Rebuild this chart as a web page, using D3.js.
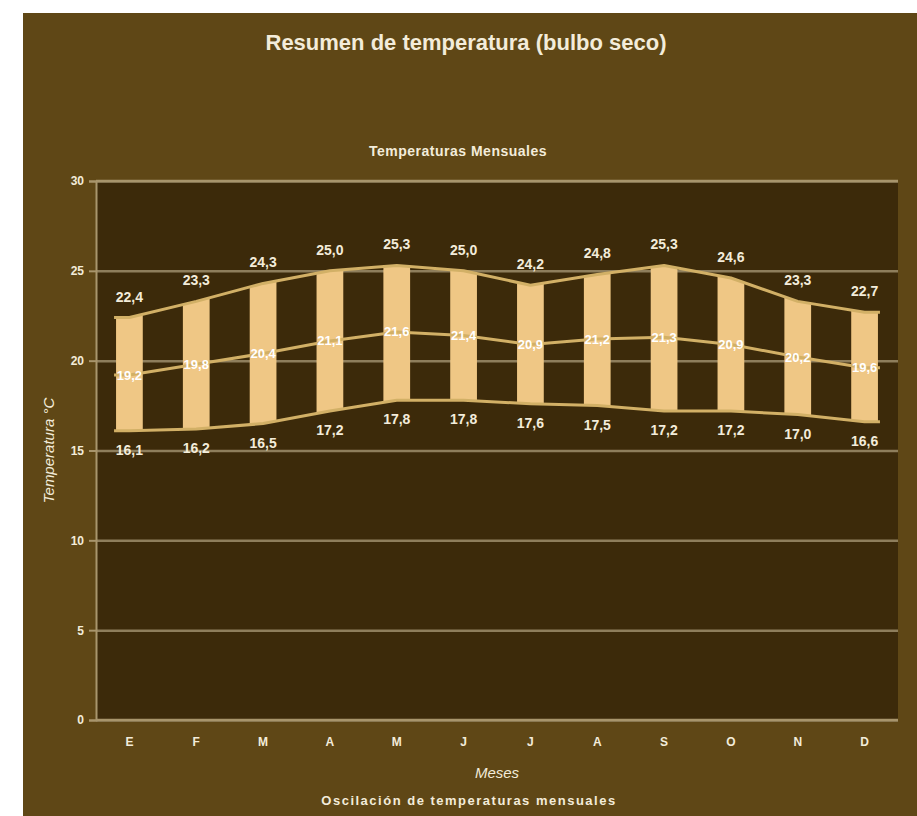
<!DOCTYPE html>
<html>
<head>
<meta charset="utf-8">
<script src="https://cdn.jsdelivr.net/npm/d3@7"></script>
<style>
  html, body { margin: 0; padding: 0; background: #ffffff; }
  svg { display: block; font-family: "Liberation Sans", Arial, sans-serif; }
</style>
</head>
<body>
<div id="chart"></div>
<script>
// data
const meses = ["E", "F", "M", "A", "M2", "J", "J2", "A2", "S", "O", "N", "D"];
const mesLabels = ["E", "F", "M", "A", "M", "J", "J", "A", "S", "O", "N", "D"];
const tMax = [22.4, 23.3, 24.3, 25.0, 25.3, 25.0, 24.2, 24.8, 25.3, 24.6, 23.3, 22.7];
const tMed = [19.2, 19.8, 20.4, 21.1, 21.6, 21.4, 20.9, 21.2, 21.3, 20.9, 20.2, 19.6];
const tMin = [16.1, 16.2, 16.5, 17.2, 17.8, 17.8, 17.6, 17.5, 17.2, 17.2, 17.0, 16.6];
const yTicks = [0, 5, 10, 15, 20, 25, 30];

const width = 917, height = 816;
const plot = { left: 96, right: 898, top: 181, bottom: 720 };

const colors = {
  outer: "#5f4716",
  plotBg: "#3c2a0a",
  grid: "#8e7e5c",
  border: "#a8956c",
  bar: "#efc785",
  line: "#d2b066",
  text: "#f3ecda"
};

const fmt = d3.formatLocale({ decimal: ",", thousands: ".", grouping: [3], currency: ["", ""] }).format(".1f");

const svg = d3.select("#chart").append("svg")
  .attr("width", width)
  .attr("height", height);

// outer panel
svg.append("rect")
  .attr("x", 23).attr("y", 13)
  .attr("width", width - 23).attr("height", height - 13)
  .attr("fill", colors.outer);

const x = d3.scaleBand()
  .domain(meses)
  .range([plot.left, plot.right])
  .paddingInner(0.6)
  .paddingOuter(0.3);

const y = d3.scaleLinear()
  .domain([0, 30])
  .range([plot.bottom, plot.top]);

const cx = (d, i) => x(meses[i]) + x.bandwidth() / 2;

// plot background
svg.append("rect")
  .attr("x", plot.left).attr("y", plot.top)
  .attr("width", plot.right - plot.left).attr("height", plot.bottom - plot.top)
  .attr("fill", colors.plotBg);

// gridlines
svg.append("g")
  .attr("transform", `translate(${plot.left},0)`)
  .call(d3.axisLeft(y).tickValues(yTicks).tickSize(-(plot.right - plot.left)).tickFormat(""))
  .call(g => g.select(".domain").remove())
  .call(g => g.selectAll("line").attr("stroke", colors.grid).attr("stroke-width", 2.5));

// y axis with small ticks
svg.append("g")
  .attr("transform", `translate(${plot.left},0)`)
  .call(d3.axisLeft(y).tickValues(yTicks).tickSize(7).tickPadding(5))
  .call(g => g.select(".domain").attr("stroke", colors.border).attr("stroke-width", 2))
  .call(g => g.selectAll("line").attr("stroke", colors.border).attr("stroke-width", 2))
  .call(g => g.selectAll("text")
    .attr("fill", colors.text)
    .attr("font-size", 12)
    .attr("font-weight", "bold"));

// top and bottom frame lines
[0, 30].forEach(v => {
  svg.append("line")
    .attr("x1", plot.left).attr("x2", plot.right)
    .attr("y1", y(v)).attr("y2", y(v))
    .attr("stroke", colors.border).attr("stroke-width", 2.5);
});

// points along each series, extended flat to the outer bar edges
function pts(vals) {
  const p = vals.map((v, i) => [cx(v, i), y(v)]);
  p.unshift([x(meses[0]) - 2, y(vals[0])]);
  p.push([x(meses[meses.length - 1]) + x.bandwidth() + 2, y(vals[vals.length - 1])]);
  return p;
}

// bars: band between min and max, cut to each month's column
svg.append("clipPath").attr("id", "cols")
  .selectAll("rect")
  .data(meses)
  .join("rect")
  .attr("x", d => x(d))
  .attr("y", plot.top)
  .attr("width", x.bandwidth())
  .attr("height", plot.bottom - plot.top);

const pMax = pts(tMax), pMin = pts(tMin);
const area = d3.area()
  .x((d, i) => pMax[i][0])
  .y0((d, i) => pMin[i][1])
  .y1((d, i) => pMax[i][1]);

svg.append("path")
  .datum(pMax)
  .attr("clip-path", "url(#cols)")
  .attr("fill", colors.bar)
  .attr("d", area);

// lines
const line = d3.line();
[tMax, tMed, tMin].forEach(vals => {
  svg.append("path")
    .datum(pts(vals))
    .attr("fill", "none")
    .attr("stroke", colors.line)
    .attr("stroke-width", 3)
    .attr("stroke-linejoin", "round")
    .attr("d", line);
});

// value labels
function labels(vals, dy, fill, size) {
  svg.append("g")
    .selectAll("text")
    .data(vals)
    .join("text")
    .attr("x", cx)
    .attr("y", d => y(d) + dy)
    .attr("text-anchor", "middle")
    .attr("dominant-baseline", "central")
    .attr("fill", fill)
    .attr("font-size", size)
    .attr("font-weight", "bold")
    .text(d => fmt(d));
}
labels(tMax, -21, colors.text, 14);
labels(tMin, 19, colors.text, 14);
labels(tMed, 0, "#ffffff", 13);

// x labels
svg.append("g")
  .selectAll("text")
  .data(meses)
  .join("text")
  .attr("x", d => x(d) + x.bandwidth() / 2)
  .attr("y", 742)
  .attr("text-anchor", "middle")
  .attr("dominant-baseline", "central")
  .attr("fill", colors.text)
  .attr("font-size", 12)
  .attr("font-weight", "bold")
  .text((d, i) => mesLabels[i]);

// titles
svg.append("text")
  .attr("x", 466).attr("y", 42)
  .attr("text-anchor", "middle").attr("dominant-baseline", "central")
  .attr("fill", colors.text).attr("font-size", 22).attr("font-weight", "bold")
  .text("Resumen de temperatura (bulbo seco)");

svg.append("text")
  .attr("x", 458).attr("y", 151)
  .attr("text-anchor", "middle").attr("dominant-baseline", "central")
  .attr("fill", colors.text).attr("font-size", 14).attr("font-weight", "bold")
  .attr("letter-spacing", 0.5)
  .text("Temperaturas Mensuales");

svg.append("text")
  .attr("x", (plot.left + plot.right) / 2).attr("y", 772)
  .attr("text-anchor", "middle").attr("dominant-baseline", "central")
  .attr("fill", colors.text).attr("font-size", 15).attr("font-style", "italic")
  .text("Meses");

svg.append("text")
  .attr("transform", `translate(48,${(plot.top + plot.bottom) / 2}) rotate(-90)`)
  .attr("text-anchor", "middle").attr("dominant-baseline", "central")
  .attr("fill", colors.text).attr("font-size", 15).attr("font-style", "italic")
  .text("Temperatura °C");

svg.append("text")
  .attr("x", 469).attr("y", 800)
  .attr("text-anchor", "middle").attr("dominant-baseline", "central")
  .attr("fill", colors.text).attr("font-size", 13).attr("font-weight", "bold")
  .attr("letter-spacing", 1.5)
  .text("Oscilación de temperaturas mensuales");
</script>
</body>
</html>
